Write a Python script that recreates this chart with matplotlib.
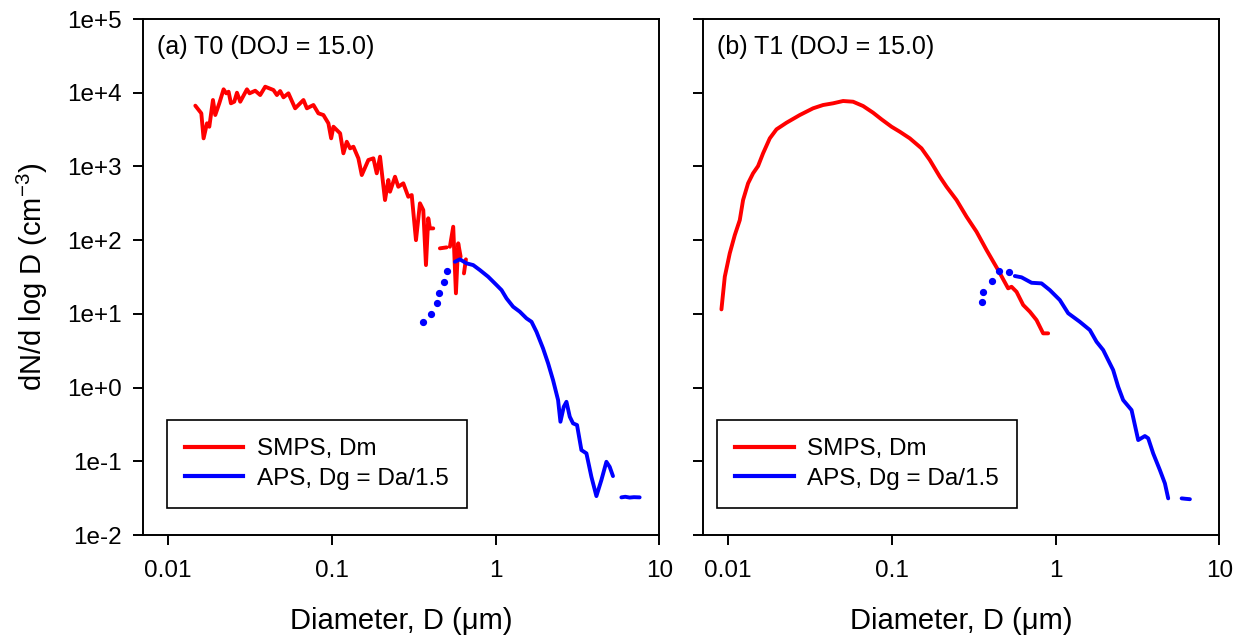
import numpy as np
import matplotlib
matplotlib.use("Agg")
import matplotlib.pyplot as plt
from matplotlib.ticker import FixedLocator, FixedFormatter, NullLocator
from matplotlib.lines import Line2D

plt.rcParams['font.family'] = ['Liberation Sans', 'DejaVu Sans']
plt.rcParams['mathtext.fontset'] = 'custom'
plt.rcParams['mathtext.rm'] = 'Liberation Sans'
plt.rcParams['mathtext.it'] = 'Liberation Sans'

nan = np.nan

# ---------------- Panel (a) T0 ----------------
smps_a_d = [0.01467, 0.01596, 0.01648, 0.01729, 0.01786, 0.01880, 0.01942, 0.02055, 0.02183, 0.02267,
            0.02342, 0.02421, 0.02536, 0.02635, 0.02759, 0.03032, 0.03145, 0.03406, 0.03653, 0.03920,
            0.04403, 0.04620, 0.04838, 0.05069, 0.05433, 0.05971, 0.06712, 0.07044, 0.07722, 0.08279,
            0.08886, 0.09531, 0.0991, 0.1023, 0.1124, 0.1177, 0.1234, 0.1293, 0.1355, 0.1453,
            0.1524, 0.1672, 0.1794, 0.1881, 0.1970, 0.2113, 0.2214, 0.2267, 0.2432, 0.2548,
            0.2733, 0.2931, 0.3076, 0.3266, 0.3454, 0.3619, 0.3758, 0.3882, 0.3975, 0.4164,
            0.43,
            0.4572, 0.5026,
            0.515,
            0.5263, 0.5514, 0.5728, 0.5916, 0.612,
            0.63,
            0.6412, 0.6592]
smps_a_n = [6670, 5254, 2405, 3846, 3456, 7962, 4981, 7181, 11120, 9812,
            10320, 7181, 7550, 10000, 7550, 11120, 9812, 10640, 9300, 12060,
            10880, 9300, 10540, 8660, 9812, 6142, 7962, 6142, 6810, 5254,
            4981, 3846, 2405, 3456, 2812, 1506, 2163, 1760, 1850, 1288,
            764, 1222, 1288, 806, 1355, 350, 654, 454, 725, 530,
            590, 388, 409, 100, 316, 256, 45.9, 198, 144.5, 144.5,
            nan,
            77.4, 79.8,
            nan,
            81.4, 152, 19.0, 90.5, 59.6,
            nan,
            35.4, 54.9]

aps_a_dot_d = [0.3619, 0.4017, 0.4366, 0.4510, 0.4841, 0.5070]
aps_a_dot_n = [7.67, 9.85, 13.9, 19.3, 27.3, 38.1]

aps_a_d = [0.5648, 0.6058, 0.6656, 0.7301, 0.8020, 0.9013, 1.014, 1.088, 1.167, 1.280,
           1.406, 1.545, 1.658, 1.778, 1.950, 2.094, 2.245, 2.409, 2.490, 2.609,
           2.710, 2.840, 2.973, 3.145, 3.344, 3.589, 3.848, 4.129, 4.429, 4.753,
           4.977, 5.213,
           5.5,
           5.866, 6.2, 6.59, 7.0, 7.585]
aps_a_n = [50.9, 54.9, 48.4, 45.9, 39.3, 31.9, 24.6, 21.0, 16.2, 12.5,
           10.7, 8.69, 7.81, 5.71, 3.40, 2.13, 1.26, 0.677, 0.344, 0.549,
           0.641, 0.402, 0.327, 0.310, 0.142, 0.128, 0.0617, 0.0337, 0.0556, 0.0984,
           0.0841, 0.063,
           nan,
           0.0324, 0.0330, 0.0322, 0.0326, 0.0324]

# ---------------- Panel (b) T1 ----------------
smps_b_d = [0.00911, 0.00955, 0.01024, 0.01099, 0.01179, 0.01235, 0.01325, 0.01421, 0.01525, 0.01636,
            0.01798, 0.01976, 0.02274, 0.02742, 0.03304, 0.03804, 0.04377, 0.05040, 0.05801, 0.06678,
            0.07687, 0.0865, 0.0996, 0.1119, 0.1288, 0.1518, 0.1706, 0.1964, 0.2159, 0.2485,
            0.2860, 0.3292, 0.3789, 0.4459, 0.5133, 0.5385, 0.5779, 0.6342, 0.6966, 0.7652,
            0.8397, 0.9012]
smps_b_n = [11.5, 31.9, 66.2, 117, 187, 350, 590, 806, 1012, 1506,
            2405, 3186, 3917, 4981, 6142, 6810, 7181, 7718, 7550, 6600,
            5354, 4355, 3456, 2956, 2405, 1760, 1222, 725, 530, 350,
            208, 130, 73.4, 39.3, 22.2, 23.3, 19.9, 13.2, 10.7, 8.24,
            5.44, 5.44]

aps_b_dot_d = [0.3532, 0.3613, 0.4064, 0.4523, 0.5207]
aps_b_dot_n = [14.3, 19.9, 28.1, 38.4, 36.6]

aps_b_d = [0.5641, 0.6199, 0.7136, 0.8212, 0.9229, 1.062, 1.194, 1.406, 1.620, 1.780,
           1.954, 2.096, 2.248, 2.411, 2.587, 2.912, 3.051, 3.197, 3.512, 3.679,
           3.946, 4.337, 4.654, 4.875,
           5.3,
           5.888, 6.2, 6.614]
aps_b_n = [32.6, 31.3, 26.4, 25.9, 21.0, 15.4, 10.2, 7.81, 6.03, 4.18,
           3.23, 2.36, 1.73, 1.03, 0.677, 0.495, 0.310, 0.194, 0.220, 0.205,
           0.128, 0.076, 0.0501, 0.0314,
           nan,
           0.0314, 0.0310, 0.0306]

panel_titles = ["(a) T0 (DOJ = 15.0)", "(b) T1 (DOJ = 15.0)"]
legend_labels = ["SMPS, Dm", "APS, Dg = Da/1.5"]
y_ticks = [1e-2, 1e-1, 1e0, 1e1, 1e2, 1e3, 1e4, 1e5]
y_tick_labels = ["1e-2", "1e-1", "1e+0", "1e+1", "1e+2", "1e+3", "1e+4", "1e+5"]
x_ticks = [0.01, 0.1, 1, 10]
x_tick_labels = ["0.01", "0.1", "1", "10"]

W, H = 1242, 643
fig = plt.figure(figsize=(W / 100, H / 100), dpi=100)

ax_l = fig.add_axes([142.7 / W, (H - 535) / H, 516.6 / W, 516 / H])
ax_r = fig.add_axes([702.7 / W, (H - 535) / H, 516.6 / W, 516 / H])

RED = '#ff0000'
BLUE = '#0000ff'
LW = 2.8
FS = 17.5

data = [
    (smps_a_d, smps_a_n, aps_a_dot_d, aps_a_dot_n, aps_a_d, aps_a_n),
    (smps_b_d, smps_b_n, aps_b_dot_d, aps_b_dot_n, aps_b_d, aps_b_n),
]

legend_pos = [(24.0, 27.0), (14.5, 27.0)]

for i, ax in enumerate([ax_l, ax_r]):
    sd, sn, dd, dn, ad, an = data[i]
    ax.set_xscale('log')
    ax.set_yscale('log')
    ax.plot(sd, sn, color=RED, lw=LW, solid_joinstyle='round', solid_capstyle='round', zorder=3)
    ax.plot(ad, an, color=BLUE, lw=LW, solid_joinstyle='round', solid_capstyle='round', zorder=4)
    ax.plot(dd, dn, linestyle='none', marker='o', ms=4.2, color=BLUE, mec=BLUE, zorder=4)
    ax.set_xlim(0.007, 10)
    ax.set_ylim(1e-2, 1e5)
    ax.xaxis.set_major_locator(FixedLocator(x_ticks))
    ax.xaxis.set_major_formatter(FixedFormatter(x_tick_labels))
    ax.xaxis.set_minor_locator(NullLocator())
    ax.yaxis.set_major_locator(FixedLocator(y_ticks))
    ax.yaxis.set_minor_locator(NullLocator())
    if i == 0:
        ax.yaxis.set_major_formatter(FixedFormatter(y_tick_labels))
        ax.set_ylabel(r'dN/d log D (cm$^{\mathregular{-3}}$)', fontsize=21, labelpad=12)
    else:
        ax.set_yticklabels([])
    ax.tick_params(axis='both', which='major', direction='out', length=7, width=1.4,
                   labelsize=FS, pad=8, color='black')
    ax.tick_params(axis='x', pad=11)
    for sp in ax.spines.values():
        sp.set_linewidth(1.4)
    ax.set_xlabel('Diameter, D (\u03bcm)', fontsize=21, labelpad=18)
    ax.text(0.027, 0.945, panel_titles[i], transform=ax.transAxes, fontsize=18,
            ha='left', va='center')
    handles = [Line2D([], [], color=RED, lw=3), Line2D([], [], color=BLUE, lw=3)]
    ox, oy = legend_pos[i]
    leg = ax.legend(handles, legend_labels, loc='lower left',
                    bbox_to_anchor=(ox / 516.6, oy / 516), borderaxespad=0,
                    fontsize=FS, frameon=True, fancybox=False, framealpha=1,
                    edgecolor='black', handlelength=2.4, handletextpad=0.55,
                    labelspacing=0.3, borderpad=0.75)
    leg.get_frame().set_linewidth(1.2)

fig.savefig('out.png', dpi=100)
